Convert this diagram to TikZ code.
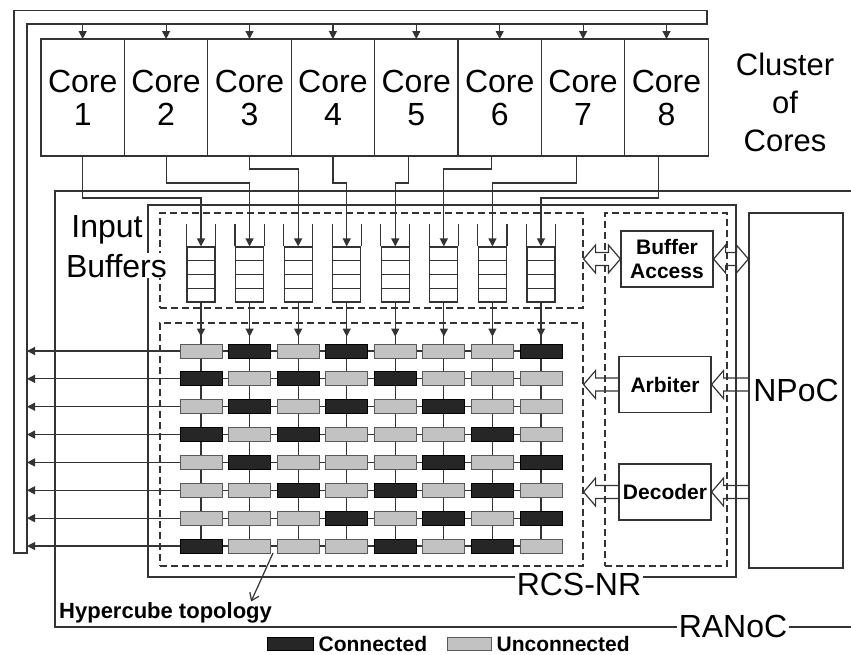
\documentclass[tikz,border=0pt]{standalone}
\usepackage{fontspec}
\setmainfont{Liberation Sans}
\definecolor{ink}{HTML}{333333}
\definecolor{cellon}{HTML}{262626}
\definecolor{celloff}{HTML}{C2C2C2}
\usetikzlibrary{calc, positioning, arrows.meta, backgrounds}

\begin{document}
\begin{tikzpicture}[x=1pt, y=-1pt,
  ln/.style={line width=1.2pt, draw=ink},
  big/.style={font=\fontsize{32}{33}\selectfont},
  corebx/.style={ln, draw, big, minimum width=83.4pt, minimum height=117pt,
                 inner sep=0pt, outer sep=0pt, align=center},
  ctrl/.style={ln, draw, minimum width=92pt, minimum height=56pt, inner sep=0pt,
               align=center, font=\bfseries\fontsize{21}{24}\selectfont},
  dbox/.style={ln, draw, dash pattern=on 7pt off 4pt, inner sep=0pt},
  buf/.style={ln, draw, minimum width=28pt, minimum height=55pt, inner sep=0pt},
  cell0/.style={draw=black!65, line width=0.8pt, fill=celloff,
                minimum width=42pt, minimum height=14pt, inner sep=0pt},
  cell1/.style={cell0, draw=black, fill=cellon},
  arr/.style={ln, -{Triangle[length=8pt, width=8pt]}},
  lbl/.style={big, inner sep=1pt, fill=white},
  leg/.style={font=\bfseries\fontsize{21}{23}\selectfont, inner sep=1pt},
  fatL/.style={to path={let \p1=(\tikztostart), \p2=(\tikztotarget) in
    (\x1,\y1+6.5pt) -- (\x2+12pt,\y1+6.5pt) -- (\x2+12pt,\y1+14pt) -- (\x2,\y1)
    -- (\x2+12pt,\y1-14pt) -- (\x2+12pt,\y1-6.5pt) -- (\x1,\y1-6.5pt)}},
  fatLR/.style={to path={let \p1=(\tikztostart), \p2=(\tikztotarget) in
    (\x1,\y1) -- (\x1+12pt,\y1+14pt) -- (\x1+12pt,\y1+6.5pt) -- (\x2-12pt,\y1+6.5pt)
    -- (\x2-12pt,\y1+14pt) -- (\x2,\y1) -- (\x2-12pt,\y1-14pt) -- (\x2-12pt,\y1-6.5pt)
    -- (\x1+12pt,\y1-6.5pt) -- (\x1+12pt,\y1-14pt) -- cycle}},
]
\useasboundingbox (0,0) rectangle (851,654);

% Feedback loop around the cores
\coordinate (fbL) at (27,24);
\draw[ln] (14,553) -- (14,10.5) -- (707,10.5) -- (707,24) -- (fbL) -- (27,553) -- cycle;

% Cluster of cores
\foreach \i in {1,...,8}
  \node[corebx] (core\i) at ({41+83.4*(\i-0.5)},97.5) {Core\\\i};
\foreach \i in {1,...,8}
  \draw[arr] (core\i.north |- fbL) -- (core\i.north);
\node[align=center, font=\fontsize{31}{38}\selectfont] (clu) at (785,102) {Cluster\\of\\Cores};

% RANoC and RCS-NR frames
\draw[ln] (851,191) -- (55,191) -- (55,627) -- (851,627);
\node[lbl, inner sep=2pt] (ranoc) at (733,626) {RANoC};
\draw[ln] (148,205) rectangle (736,577);
\node[lbl, anchor=base, inner sep=2pt] (rcs) at (579,595) {RCS-NR};

% Dashed regions
\node[dbox, minimum width=423pt, minimum height=95pt] (inbox) at (371.5,260.5) {};
\node[dbox, minimum width=423pt, minimum height=243pt] (xbox) at (371.5,444.5) {};
\node[dbox, minimum width=122pt, minimum height=353pt] (cbox) at (666,389.5) {};

% Input buffers
\foreach \col in {1,...,8} {
  \node[buf] (b\col) at ({201+48.57*(\col-1)},274.5) {};
  \draw[ln] (b\col.north west) -- ++(0,-22) (b\col.north east) -- ++(0,-22);
  \foreach \f in {0.25,0.5,0.75}
    \draw[ln] ($(b\col.north west)!\f!(b\col.south west)$) -- ($(b\col.north east)!\f!(b\col.south east)$);
}
\node[lbl, anchor=base] (inlbl) at (107,237) {Input};
\node[lbl, anchor=base] (buflbl) at (116.5,277) {Buffers};

% Cores to buffers
\draw[arr] (core1.south) -- ++(0,42) -| (b1.north);
\draw[arr] (core2.south) -- ++(0,27) -| (b2.north);
\draw[arr] (core3.south) -- ++(0,13) -| (b3.north);
\draw[arr] (core4.south) -- ++(0,27) -| (b4.north);
\draw[arr] (core5.south) ++(-8,0) -- ++(0,27) -| (b5.north);
\draw[arr] (core6.south) ++(-8,0) -- ++(0,13) -| (b6.north);
\draw[arr] (core7.south) ++(-7,0) -- ++(0,27) -| (b7.north);
\draw[arr] (core8.south) ++(-8,0) -- ++(0,42) -| (b8.north);

% Crossbar switches
\foreach \row/\pat in {1/{0,1,0,1,0,0,0,1}, 2/{1,0,1,0,1,0,0,0}, 3/{0,1,0,1,0,1,0,0},
                       4/{1,0,1,0,0,0,1,0}, 5/{0,1,0,0,0,1,0,1}, 6/{0,0,1,0,1,0,1,0},
                       7/{0,0,0,1,0,1,0,1}, 8/{1,0,0,0,1,0,1,0}}
  \foreach \s [count=\col] in \pat
    \node[cell\s] (x\row\col) at ({201+48.57*(\col-1)},{351+27.86*(\row-1)}) {};

\begin{scope}[on background layer]
  \foreach \row in {1,...,8}
    \draw[arr] (x\row8.center) -- (x\row1.center -| fbL);
  \foreach \col in {1,...,8} {
    \draw[ln] (b\col.south) -- (x8\col.center);
    \draw[arr, shorten >=7pt] (b\col.south) -- (x1\col.north);
  }
\end{scope}

% Control blocks and NPoC
\node[ctrl] (ba) at (667,259) {Buffer\\Access};
\node[ctrl] (arb) at (665,384.5) {Arbiter};
\node[ctrl] (dec) at (665,492) {Decoder};
\node[ln, draw, minimum width=94pt, minimum height=355pt, inner sep=0pt,
      font=\fontsize{32}{36}\selectfont] (npoc) at (796,390.5) {NPoC};

\draw[ln, fatLR] (ba.west -| inbox.east) to (ba.west);
\draw[ln, fatLR] (ba.east) to (ba.east -| npoc.west);
\draw[ln, fatL] (arb.west) to (arb.west -| xbox.east);
\draw[ln, fatL] (arb.east -| npoc.west) to (arb.east);
\draw[ln, fatL] (dec.west) to (dec.west -| xbox.east);
\draw[ln, fatL] (dec.east -| npoc.west) to (dec.east);

% Hypercube note and legend
\node[leg, anchor=west, font=\bfseries\fontsize{22}{24}\selectfont] (hyp) at (58,613) {Hypercube topology};
\coordinate (hc) at (273,553);
\draw[ln, -{Straight Barb[length=7pt, width=10pt]}] (hc) -- ($(hyp.north east)+(-22,0)$);

\node[cell1, minimum width=46pt, minimum height=13pt] (lgon) at (290,643.5) {};
\node[leg, right=4pt of lgon] (lgontxt) {Connected};
\node[cell0, minimum width=44pt, minimum height=13pt] (lgoff) at (469,643.5) {};
\node[leg, right=4pt of lgoff] (lgofftxt) {Unconnected};

\end{tikzpicture}
\end{document}
